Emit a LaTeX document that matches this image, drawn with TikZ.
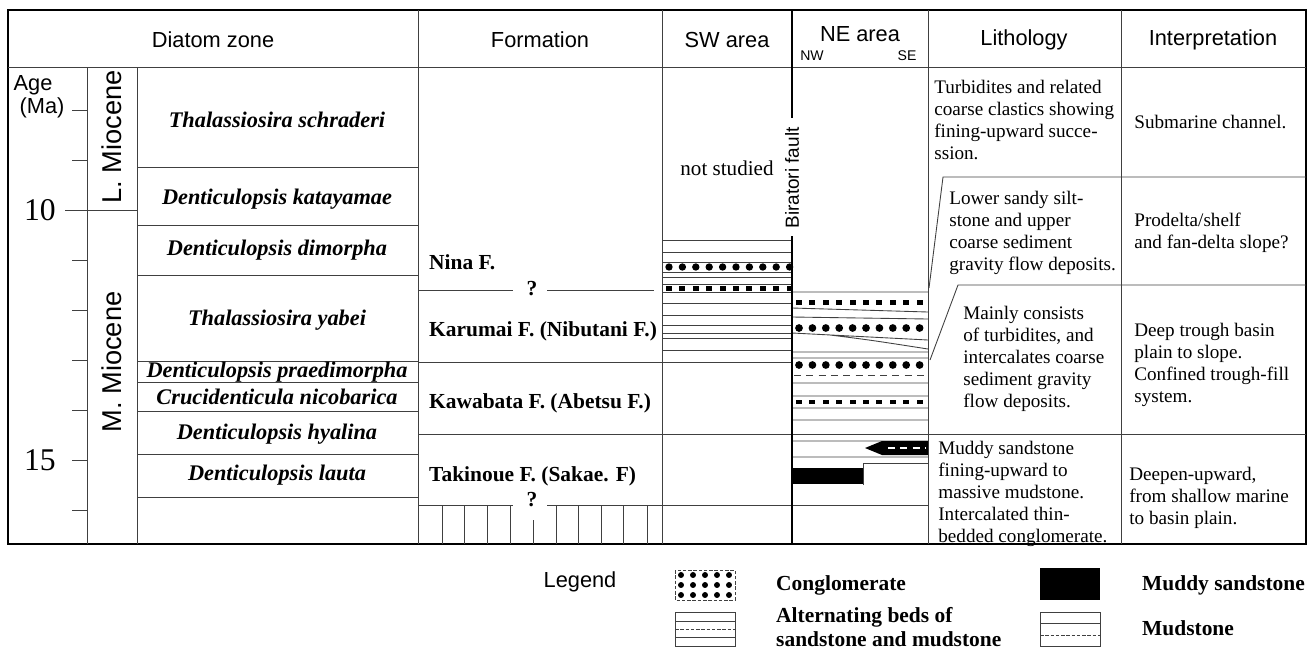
\documentclass[tikz,border=0pt]{standalone}
\usepackage{fontspec}
\setmainfont{Liberation Serif}
\newfontfamily\arialfont{Liberation Sans}
\tikzset{
  hd/.style={font=\arialfont\fontsize{12.4}{14}\selectfont},
  epoch/.style={rotate=90,font=\arialfont\fontsize{15.5}{17}\selectfont},
  zone/.style={font=\fontsize{12.7}{14}\selectfont\bfseries\itshape},
  fm/.style={anchor=west,font=\fontsize{12.2}{14}\selectfont\bfseries},
  txt/.style={anchor=west,align=left,inner sep=0pt,font=\fontsize{10.9}{12.5}\selectfont},
  thin/.style={line width=0.5pt,black!75},
}
\begin{document}
\begin{tikzpicture}[x=0.02cm,y=-0.02cm]
\useasboundingbox (0,0) rectangle (1314,663);
% outline and header
\draw[line width=1.6pt] (8,10) rectangle (1306,544);
\draw[thin] (8,67) -- (1306,67);
\draw[thin] (87,67) -- (87,544) (137,67) -- (137,544)
  (418,10) -- (418,544) (662,10) -- (662,544)
  (928,10) -- (928,544) (1121,10) -- (1121,544);
\node[hd] (hzone) at (213,40) {Diatom zone};
\node[hd] (hform) at (540,40) {Formation};
\node[hd] (hsw) at (727,40) {SW area};
\node[hd] (hne) at (860,34) {NE area};
\node[font=\arialfont\fontsize{8}{9}\selectfont] (hnw) at (812,56) {NW};
\node[font=\arialfont\fontsize{8}{9}\selectfont] (hse) at (907,56) {SE};
\node[hd] (hlith) at (1024,40) {Lithology};
\node[hd] (hint) at (1213,40) {Interpretation};
% age scale
\node[hd] (age) at (33,85) {Age};
\node[hd] (ma) at (42,108) {(Ma)};
\foreach \y in {110,160,260,310,360,410,460,510}
  \draw[thin] (72,\y) -- (87,\y);
\draw[thin] (65,210) -- (137,210);
\node[font=\fontsize{18}{20}\selectfont] (a10) at (40,210) {10};
\node[font=\fontsize{18}{20}\selectfont] (a15) at (40,460) {15};
\node[epoch] (lmio) at (112,137) {L. Miocene};
\node[epoch] (mmio) at (112,362) {M. Miocene};
% diatom zones
\foreach \y in {167,225,275,361,382,411,454,497}
  \draw[thin] (137,\y) -- (418,\y);
\node[zone] (z1) at (277,120) {Thalassiosira schraderi};
\node[zone] (z2) at (277,199) {Denticulopsis katayamae};
\node[zone] (z3) at (277,250) {Denticulopsis dimorpha};
\node[zone] (z4) at (277,320) {Thalassiosira yabei};
\node[zone] (z5) at (277,372) {Denticulopsis praedimorpha};
\node[zone] (z6) at (277,397) {Crucidenticula nicobarica};
\node[zone] (z7) at (277,434) {Denticulopsis hyalina};
\node[zone] (z8) at (277,475) {Denticulopsis lauta};
% formations
\draw[thin] (418,290) -- (513,290) (547,290) -- (654,290)
  (418,362) -- (792,362) (418,434) -- (1306,434)
  (418,505) -- (513,505) (547,505) -- (928,505);
\foreach \x in {442,464,487,510,556,578,601,623,647}
  \draw[thin] (\x,505) -- (\x,544);
\draw[thin] (533,520) -- (533,544);
\node[fm] (nina) at (423,262) {Nina F.};
\node[fm] (karumai) at (423,331) {Karumai F. (Nibutani F.)};
\node[fm] (kawabata) at (423,403) {Kawabata F. (Abetsu F.)};
\node[fm] (takinoue) at (423,476) {Takinoue F. (Sakae. F)};
\node[fm,anchor=center] (q1) at (532,289) {?};
\node[fm,anchor=center] (q2) at (532,500) {?};
% SW area
\node[font=\fontsize{12}{14}\selectfont] (nots) at (727,168) {not studied};
\foreach \y in {240,252,262,272,277,284,292,303,315,325,333,338,350}
  \draw[thin] (662,\y) -- (792,\y);
\foreach \i in {0,...,9} {
  \fill ({669+13.4*\i},267) circle[radius=2.1pt];
  \fill ({666+13.4*\i},285.5) rectangle ++(6,5);
}
% NE area
\draw[thin] (792,292) -- (928,292) (792,308) -- (928,312)
  (792,317) -- (928,319) (792,333) -- (928,340)
  (830,335) .. controls (870,340) .. (928,349)
  (792,352) -- (928,352) (792,358) -- (928,358)
  (792,383) -- (928,383) (792,396) -- (928,396)
  (792,408) -- (928,408) (792,420) -- (928,420)
  (792,441) -- (928,441) (792,457) -- (928,457);
\draw[thin,dash pattern=on 4pt off 3pt] (794,375) -- (928,375);
\foreach \i in {0,...,9} {
  \fill ({796+13.4*\i},300) rectangle ++(6,5);
  \fill ({799+13.4*\i},328) circle[radius=2.2pt];
  \fill ({799+13.4*\i},365) circle[radius=2.2pt];
  \fill ({796+13.4*\i},400) rectangle ++(6,4);
}
\fill (865,448) -- (882,441) -- (928,441) -- (928,455) -- (882,455) -- cycle;
\draw[white,line width=1.3pt,dash pattern=on 4pt off 3pt] (888,448) -- (926,448);
\fill (792,468) rectangle (863,484);
\draw[thin] (863,485) -- (863,463) -- (928,463);
% fault
\draw[line width=1.1pt] (792,10) -- (792,118) (792,236) -- (792,544);
\node[rotate=90,font=\arialfont\fontsize{10.8}{12}\selectfont] (fault) at (792,178) {Biratori fault};
% lithology and interpretation
\draw[thin] (929,288) -- (943,177) -- (1306,177);
\draw[thin] (930,360) -- (958,285) -- (1306,285);
\node[txt] (l1) at (934,120) {Turbidites and related\\coarse clastics showing\\fining-upward succe-\\ssion.};
\node[txt] (l2) at (949,233) {Lower sandy silt-\\stone and upper\\coarse sediment\\gravity flow deposits.};
\node[txt] (l3) at (963,359) {Mainly consists\\of turbidites, and\\intercalates coarse\\sediment gravity\\flow deposits.};
\node[txt] (l4) at (938,494) {Muddy sandstone\\fining-upward to\\massive mudstone.\\Intercalated thin-\\bedded conglomerate.};
\node[txt] (i1) at (1134,122) {Submarine channel.};
\node[txt] (i2) at (1134,233) {Prodelta/shelf\\and fan-delta slope?};
\node[txt] (i3) at (1134,365) {Deep trough basin\\plain to slope.\\Confined trough-fill\\system.};
\node[txt] (i4) at (1129,498) {Deepen-upward,\\from shallow marine\\to basin plain.};
% legend
\node[hd] (leg) at (580,582) {Legend};
\draw[thin,dash pattern=on 2pt off 1pt] (675,570) rectangle (735,600);
\foreach \r in {0,1,2}
  \foreach \c in {0,...,4}
    \fill ({681+12*\c},{575+10*\r}) circle[radius=1.7pt];
\node[fm] (lconglo) at (770,585) {Conglomerate};
\draw[thin] (675,612) rectangle (735,646) (675,621) -- (735,621) (675,637) -- (735,637);
\draw[thin,dash pattern=on 2pt off 1pt] (675,629) -- (735,629);
\node[fm,align=left] (lalt) at (770,627) {Alternating beds of\\sandstone and mudstone};
\fill (1040,568) rectangle (1100,600);
\node[fm] (lmuddy) at (1136,585) {Muddy sandstone};
\draw[thin] (1040,612) rectangle (1100,646) (1040,623) -- (1100,623);
\draw[thin,dash pattern=on 2pt off 1pt] (1040,635) -- (1100,635);
\node[fm] (lmud) at (1136,628) {Mudstone};
\end{tikzpicture}
\end{document}
